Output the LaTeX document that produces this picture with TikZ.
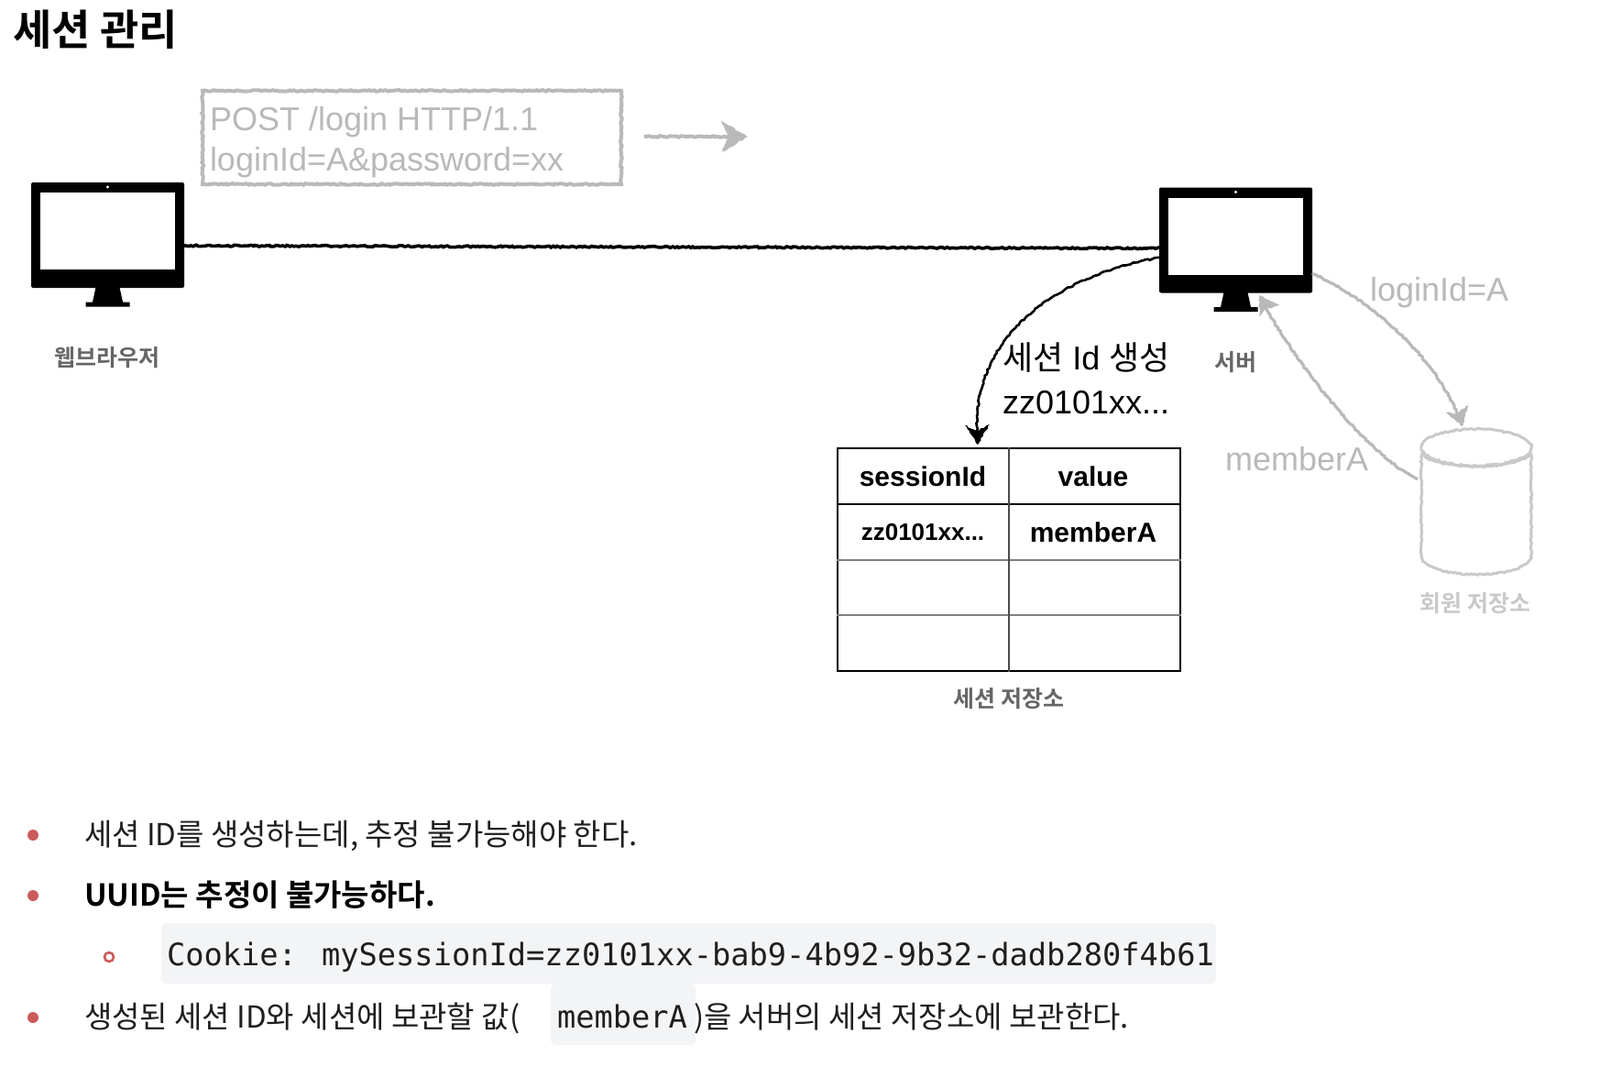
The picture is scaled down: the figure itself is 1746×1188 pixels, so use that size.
\documentclass[tikz,border=0pt]{standalone}
\usepackage{fontspec}
\setmainfont{Liberation Sans}
\newfontfamily\kr[BoldFont={Noto Sans CJK KR Bold}]{Noto Sans CJK KR}
\newfontfamily\lsans{Liberation Sans}
\newfontfamily\codefont{DejaVu Sans Mono}
\usetikzlibrary{decorations.pathmorphing}
\definecolor{sketchgray}{HTML}{B9B9B9}
\definecolor{labelgray}{HTML}{666666}
\definecolor{palegray}{HTML}{C9C9C9}
\definecolor{bulletred}{HTML}{CB5B5B}
\definecolor{codebg}{HTML}{F3F4F6}
\definecolor{bodyink}{HTML}{1F1F1F}
\tikzset{
  sketch/.style={decorate,decoration={random steps,segment length=2.5pt,amplitude=.8pt}},
  head/.style={sketch,fill},
  txt/.style={inner sep=0pt,outer sep=0pt,anchor=base west},
  mid/.style={inner sep=0pt,outer sep=0pt,anchor=center},
  sz/.style={font=\fontsize{#1}{#1}\selectfont},
  monitorbody/.style={fill=black,rounded corners=2pt,minimum width=167pt,minimum height=115pt,inner sep=0pt,outer sep=0pt},
  devlabel/.style={mid,font=\kr\bfseries\fontsize{25}{25}\selectfont,text=labelgray},
  cellhead/.style={mid,font=\bfseries\fontsize{30}{30}\selectfont},
  bodytext/.style={txt,font=\kr\fontsize{33}{33}\selectfont,text=bodyink},
  bodybold/.style={txt,font=\kr\bfseries\fontsize{33}{33}\selectfont,text=black},
  codetext/.style={txt,font=\codefont\fontsize{33.7}{33.7}\selectfont,text=bodyink},
  codebox/.style={fill=codebg,rounded corners=6pt},
  bulletdot/.style={circle,fill=bulletred,minimum size=12pt,inner sep=0pt},
  bulletring/.style={circle,draw=bulletred,line width=2.6pt,minimum size=10pt,inner sep=0pt},
  pics/monitorpic/.style={code={
    \fill[white] (-73.5,-46.5) rectangle (73.5,37.5);
    \fill[white] (0,-52.5) circle (1.6);
    \fill[black] (-13,57) -- (13,57) -- (16.5,73) -- (24,73) -- (24,78) -- (-24,78) -- (-24,73) -- (-16.5,73) -- cycle;
  }},
}
\begin{document}
\begin{tikzpicture}[x=1pt,y=-1pt]
\useasboundingbox[fill=white] (0,0) rectangle (1746,1188);

% title
\node[txt,font=\kr\bfseries\fontsize{46}{46}\selectfont,text=black] (title) at (14,50) {세션 관리};

% monitors
\node[monitorbody] (browser) at (117.5,256.5) {};
\pic at (browser.center) {monitorpic};
\node[monitorbody] (server) at (1348.5,262) {};
\pic at (server.center) {monitorpic};
\node[devlabel] (browserlabel) at (117,390) {웹브라우저};
\node[devlabel] (serverlabel) at (1348,395) {서버};

% request box
\node[draw=sketchgray,line width=4pt,sketch,minimum width=457pt,minimum height=102pt,inner sep=0pt] (reqbox) at (449.5,150) {};
\node[txt,sz=36,text=sketchgray] (reqa) at (229,143) {POST /login HTTP/1.1};
\node[txt,sz=36,text=sketchgray] (reqb) at (229,186) {loginId=A\&password=xx};

% request arrow
\coordinate (reqfrom) at (703,149);
\coordinate (reqto) at (816,149);
\draw[sketchgray,line width=4pt,sketch] (reqfrom) -- (795,149);
\path[head,sketchgray] (reqto) -- (787,132) -- (795,149) -- (787,167) -- cycle;

% browser - server line
\draw[black,line width=3.6pt,sketch] ([yshift=-11.5pt]browser.east) -- ([yshift=-9pt]server.west);

% session id arrow
\coordinate (sessto) at (1067,485);
\draw[black,line width=2.6pt,sketch] ([yshift=-19pt]server.west) .. controls (1160,300) and (1062,360) .. (1066,472);
\path[head,black] (sessto) -- (1053,464) -- (1066,470) -- (1080,463) -- cycle;
\node[txt,sz=36,text=black] (sessa) at (1094,403) {{\kr 세션} Id {\kr 생성}};
\node[txt,sz=36,text=black] (sessb) at (1094,451) {zz0101xx...};

% member store
\fill[white] (1551,488) -- (1551,605) .. controls (1551,634) and (1671,634) .. (1671,605) -- (1671,488) -- cycle;
\draw[palegray,line width=3pt,sketch] (1551,496) -- (1551,605) .. controls (1551,634) and (1671,634) .. (1671,605) -- (1671,496);
\draw[palegray,line width=3pt,sketch] (1611,488) ellipse [x radius=60,y radius=20];
\draw[palegray,line width=3pt,sketch] (1551,494) .. controls (1565,514) and (1657,514) .. (1671,494);
\coordinate (dbleft) at (1547,523);
\coordinate (dbtop) at (1596,465);
\coordinate (servercorner) at (1432,298);
\coordinate (servermid) at (1374,322);
\draw[sketchgray,line width=3.2pt,sketch] (servercorner) .. controls (1500,330) and (1565,390) .. (1590,451);
\path[head,sketchgray] (dbtop) -- (1578,450) -- (1590,451) -- (1602,442) -- cycle;
\draw[sketchgray,line width=3.2pt,sketch] (dbleft) .. controls (1500,500) and (1430,420) .. (1382,337);
\path[head,sketchgray] (servermid) -- (1396,333) -- (1382,337) -- (1374,345) -- cycle;
\node[txt,sz=36,text=sketchgray] (loginlabel) at (1495,328) {loginId=A};
\node[txt,sz=36,text=sketchgray] (memberlabel) at (1337,513) {memberA};
\node[mid,font=\kr\bfseries\fontsize{25}{25}\selectfont,text=palegray] (dblabel) at (1610,658) {회원 저장소};

% session table
\node[draw=black,line width=2.8pt,minimum width=374pt,minimum height=243pt,inner sep=0pt] (sesstable) at (1101,610.5) {};
\draw[black,line width=2.8pt] (sesstable.west |- 0,550) -- (sesstable.east |- 0,550);
\draw[gray,line width=1.2pt] (sesstable.west |- 0,611) -- (sesstable.east |- 0,611);
\draw[gray,line width=1.2pt] (sesstable.west |- 0,671) -- (sesstable.east |- 0,671);
\draw[black!70,line width=1.2pt] (sesstable.north) -- (sesstable.south);
\node[cellhead] (c11) at (1007,520) {sessionId};
\node[cellhead] (c12) at (1193,520) {value};
\node[mid,font=\bfseries\fontsize{26}{26}\selectfont] (c21) at (1007,581) {zz0101xx...};
\node[cellhead] (c22) at (1193,581) {memberA};
\node[devlabel] (tablelabel) at (1101,762) {세션 저장소};

% notes
\node[bulletdot] (b1) at (36,911) {};
\node[bodytext] (t1) at (92,922) {세션 ID를 생성하는데, 추정 불가능해야 한다.};
\node[bulletdot] (b2) at (36,977) {};
\node[bodybold] (t2) at (92,988) {UUID는 추정이 불가능하다.};
\node[bulletring] (b3) at (119,1044) {};
\fill[codebox] (176,1007) rectangle (1327,1073);
\node[codetext] (code1) at (182,1053) {Cookie: mySessionId=zz0101xx-bab9-4b92-9b32-dadb280f4b61};
\node[bulletdot] (b4) at (36,1110) {};
\fill[codebox] (601,1073) rectangle (759,1140);
\node[bodytext] (t4a) at (92,1121) {생성된 세션 ID와 세션에 보관할 값(};
\node[codetext] (code2) at (608,1121) {memberA};
\node[bodytext] (t4b) at (757,1121) {)을 서버의 세션 저장소에 보관한다.};
\end{tikzpicture}
\end{document}
